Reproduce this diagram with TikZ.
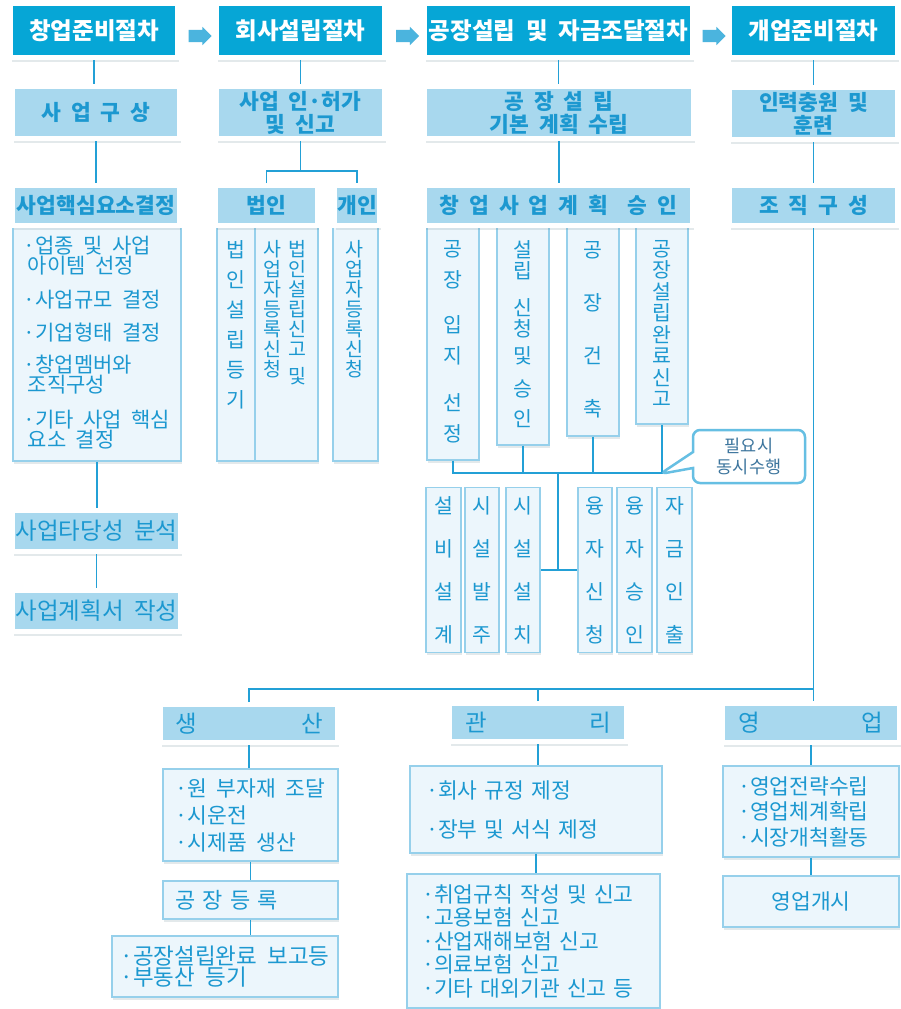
\documentclass[tikz,border=0pt]{standalone}
\usepackage{fontspec}
\setmainfont[WordSpace=2]{Noto Sans CJK KR}
\usepackage{tikz}
\usetikzlibrary{positioning,calc,shadows,shapes.arrows,shapes.callouts}

\definecolor{headblue}{RGB}{6,166,214}
\definecolor{stepblue}{RGB}{168,216,238}
\definecolor{paleblue}{RGB}{236,246,252}
\definecolor{edgeblue}{RGB}{150,208,235}
\definecolor{lineblue}{RGB}{35,160,214}
\definecolor{textblue}{RGB}{28,152,208}
\definecolor{arrowblue}{RGB}{75,180,222}
\definecolor{noteblue}{RGB}{62,118,158}

\begin{document}
\begin{tikzpicture}[
    x=1pt, y=-1pt,
    every node/.style={inner sep=0pt},
    head_node/.style={rectangle, draw=white, line width=5pt, fill=headblue, text=white,
        font=\fontsize{23.5}{26}\selectfont\bfseries, minimum height=54,
        drop shadow={shadow xshift=1.5pt, shadow yshift=-4.5pt, fill=lineblue!25!gray, opacity=0.18}},
    step_node/.style={rectangle, draw=white, line width=5pt, fill=stepblue, text=textblue,
        font=\fontsize{21.5}{23}\selectfont\bfseries, align=center,
        drop shadow={shadow xshift=1.5pt, shadow yshift=-4.5pt, fill=lineblue!25!gray, opacity=0.18}},
    flat_step/.style={step_node, font=\fontsize{23.5}{26}\selectfont},
    info_node/.style={rectangle, draw=edgeblue, line width=1.2pt, fill=paleblue, text=textblue,
        font=\fontsize{21}{22}\selectfont, align=left,
        drop shadow={shadow xshift=1pt, shadow yshift=-2.5pt, fill=lineblue!25!gray, opacity=0.18}},
    col_text/.style={text=textblue, align=center, anchor=north},
    link/.style={draw=lineblue, line width=1.5pt},
    flow_arrow/.style={single arrow, fill=arrowblue, inner sep=6pt, minimum height=23,
        single arrow head extend=3pt},
    note_node/.style={rectangle callout, rounded corners=7pt, draw=arrowblue!85, line width=2.5pt,
        fill=white, text=noteblue, font=\fontsize{17.5}{21}\selectfont, align=center,
        callout pointer width=16pt}
]

\fill[white] (0,0) rectangle (900,1009);
\useasboundingbox (0,0) rectangle (900,1009);

% Columns under the third row
\node[info_node, minimum width=168, minimum height=237, font=\fontsize{21}{20}\selectfont] (core_list) at (97,342.5)
    {·업종 및 사업\\\hspace*{4pt}아이템 선정\\[14pt]·사업규모 결정\\[13pt]·기업형태 결정\\[12pt]·창업멤버와\\\hspace*{4pt}조직구성\\[15pt]·기타 사업 핵심\\\hspace*{4pt}요소 결정};

\node[info_node, minimum width=38, minimum height=238] (reg) at (236,342) {};
\node[info_node, minimum width=63, minimum height=238] (file) at (286.5,342) {};
\node[info_node, minimum width=45, minimum height=238] (solo_reg) at (355.5,342) {};
\node[col_text, font=\fontsize{20.5}{30}\selectfont] (reg_t) at (236,240) {법\\인\\설\\립\\등\\기};
\node[col_text, font=\fontsize{19.5}{20}\selectfont] (file_a) at (297,240.5) {법\\인\\설\\립\\신\\고\\[7pt]및};
\node[col_text, font=\fontsize{19.5}{20}\selectfont] (file_b) at (272,240.5) {사\\업\\자\\등\\록\\신\\청};
\node[col_text, font=\fontsize{19.5}{20}\selectfont] (solo_t) at (354,240.5) {사\\업\\자\\등\\록\\신\\청};

\node[info_node, minimum width=52, minimum height=237, align=center, font=\fontsize{20.5}{31}\selectfont] (site) at (453,341.5)
    {공\\장\\[14pt]입\\지\\[16pt]선\\정};
\node[info_node, minimum width=52, minimum height=222, align=center, font=\fontsize{20.5}{21}\selectfont] (permit_col) at (523,334)
    {설\\립\\[16pt]신\\청\\[6pt]및\\[12pt]승\\[9pt]인};
\node[info_node, minimum width=52, minimum height=213, align=center, font=\fontsize{20.5}{53}\selectfont] (build) at (593,329.5)
    {공\\장\\건\\축};
\node[info_node, minimum width=52, minimum height=201, align=center, font=\fontsize{20.5}{21.5}\selectfont] (done) at (662,323.5)
    {공\\장\\설\\립\\완\\료\\신\\고};

% Equipment and funds
\node[info_node, minimum width=35, minimum height=165, align=center, font=\fontsize{20.5}{43}\selectfont] (design) at (443.5,570) {설\\비\\설\\계};
\node[info_node, minimum width=34, minimum height=165, align=center, font=\fontsize{20.5}{43}\selectfont] (order) at (482,570) {시\\설\\발\\주};
\node[info_node, minimum width=34, minimum height=165, align=center, font=\fontsize{20.5}{43}\selectfont] (fit) at (523,570) {시\\설\\설\\치};
\node[info_node, minimum width=34, minimum height=165, align=center, font=\fontsize{20.5}{43}\selectfont] (loan) at (595,570) {융\\자\\신\\청};
\node[info_node, minimum width=35, minimum height=165, align=center, font=\fontsize{20.5}{43}\selectfont] (loan_ok) at (634.5,570) {융\\자\\승\\인};
\node[info_node, minimum width=35, minimum height=165, align=center, font=\fontsize{20.5}{43}\selectfont] (draw_out) at (674.5,570) {자\\금\\인\\출};

% Headers
\node[head_node, minimum width=167] (prep) at (94,30.5) {창업준비절차};
\node[head_node, minimum width=168] (found) at (300.5,30.5) {회사설립절차};
\node[head_node, minimum width=268] (plant) at (558.5,30.5) {공장설립 및 자금조달절차};
\node[head_node, minimum width=168] (open) at (813.5,30.5) {개업준비절차};

\node[flow_arrow] (go1) at ($(prep.east)!0.5!(found.west)+(0,5.5)$) {};
\node[flow_arrow] (go2) at ($(found.east)!0.5!(plant.west)+(0,5.5)$) {};
\node[flow_arrow] (go3) at ($(plant.east)!0.5!(open.west)+(0,5.5)$) {};

% Second and third rows
\node[step_node, minimum width=167, minimum height=52] (idea) at (96,112.5) {사 업 구 상};
\node[step_node, minimum width=168, minimum height=52] (permit) at (300.5,112.5) {사업 인·허가\\및 신고};
\node[step_node, minimum width=269, minimum height=52] (plan) at (559,112.5) {공 장 설 립\\기본 계획 수립};
\node[step_node, minimum width=168, minimum height=52] (staff) at (813.5,113.5) {인력충원 및\\훈련};

\node[step_node, minimum width=167, minimum height=40] (core) at (96,205.5) {사업핵심요소결정};
\node[step_node, minimum width=102, minimum height=40] (corpkind) at (266.5,205.5) {법인};
\node[step_node, minimum width=45, minimum height=40] (solo) at (357,205.5) {개인};
\node[step_node, minimum width=268, minimum height=40] (approve) at (558.5,205.5) {창 업 사 업 계 획 \ 승 인};
\node[step_node, minimum width=168, minimum height=40] (org) at (813.5,205.5) {조 직 구 성};

\node[flat_step, minimum width=168, minimum height=41] (feas) at (96.5,531) {사업타당성 분석};
\node[flat_step, minimum width=168, minimum height=41] (bizplan) at (96.5,611) {사업계획서 작성};

% Departments
\node[flat_step, minimum width=177, minimum height=38] (prod) at (249,723.5) {\makebox[148pt]{생\hfill 산}};
\node[flat_step, minimum width=177, minimum height=38] (mgmt) at (538,722.5) {\makebox[146pt]{관\hfill 리}};
\node[flat_step, minimum width=177, minimum height=39] (sales) at (811,723) {\makebox[145pt]{영\hfill 업}};

\node[info_node, minimum width=175, minimum height=92, font=\fontsize{21.5}{27}\selectfont] (prod_list) at (250.5,815)
    {·원 부자재 조달\\·시운전\\·시제품 생산};
\node[info_node, minimum width=175, minimum height=38, text width=151, font=\fontsize{22}{24}\selectfont] (plant_reg) at (250.5,900)
    {공 장 등 록};
\node[info_node, minimum width=226, minimum height=61, font=\fontsize{22.5}{21}\selectfont] (plant_done) at (225,966.5)
    {·공장설립완료 보고등\\·부동산 등기};

\node[info_node, minimum width=252, minimum height=87, text width=220, font=\fontsize{21.5}{20}\selectfont] (rules) at (536,809.5)
    {·회사 규정 제정\\[19pt]·장부 및 서식 제정};
\node[info_node, minimum width=253, minimum height=134, text width=223, font=\fontsize{21.5}{23.5}\selectfont] (filings) at (533.5,941)
    {·취업규칙 작성 및 신고\\·고용보험 신고\\·산업재해보험 신고\\·의료보험 신고\\·기타 대외기관 신고 등};

\node[info_node, minimum width=176, minimum height=91, text width=146, font=\fontsize{21.5}{25.5}\selectfont] (sales_list) at (811,811.5)
    {·영업전략수립\\·영업체계확립\\·시장개척활동};
\node[info_node, minimum width=176, minimum height=51, align=center, font=\fontsize{21.5}{22}\selectfont] (launch) at (811,901.5)
    {영업개시};

% Links
\draw[link] (prep.south) -- (prep.south |- idea.north);
\draw[link] (idea.south) -- (idea.south |- core.north);
\draw[link] (core_list.south) -- (core_list.south |- feas.north);
\draw[link] (feas) -- (bizplan);

\coordinate (fork) at (300.5,171);
\draw[link] (found) -- (permit);
\draw[link] (permit.south) -- (fork);
\draw[link] (corpkind.north) |- (fork) -| (solo.north);

\draw[link] (plant.south) -- (plant.south |- plan.north);
\draw[link] (plan.south) -- (plan.south |- approve.north);

\coordinate (bus) at (0,473);
\coordinate (bus_mid) at (558,473);
\draw[link] (site.south) |- (bus -| done.south) -- (done.south);
\draw[link] (permit_col.south) -- (permit_col.south |- bus);
\draw[link] (build.south) -- (build.south |- bus);
\draw[link] (bus_mid) |- (fit.east);
\draw[link] (bus_mid |- loan.west) -- (loan.west);

\draw[link] (open) -- (staff);
\draw[link] (staff) -- (org);
\draw[link] (org.south) -- (org.south |- sales.north);

\coordinate (bar) at (0,689);
\draw[link] (prod.north) |- (bar -| org.south);
\draw[link] (mgmt.north) -- (mgmt.north |- bar);

\draw[link] (prod.south) -- (prod.south |- prod_list.north);
\draw[link] (prod_list.south) -- (prod_list.south |- plant_reg.north);
\draw[link] (plant_reg.south) -- (plant_reg.south |- plant_done.north);
\draw[link] (mgmt.south) -- (mgmt.south |- rules.north);
\draw[link] (rules.south) -- (rules.south |- filings.north);
\draw[link] (sales.south) -- (sales.south |- sales_list.north);
\draw[link] (sales_list.south) -- (sales_list.south |- launch.north);

% Note
\coordinate (note_tip) at (660,474);
\node[note_node, minimum width=112, minimum height=53, callout absolute pointer={(note_tip)}] (note) at (749,456.5)
    {필요시\\동시수행};

\end{tikzpicture}
\end{document}
